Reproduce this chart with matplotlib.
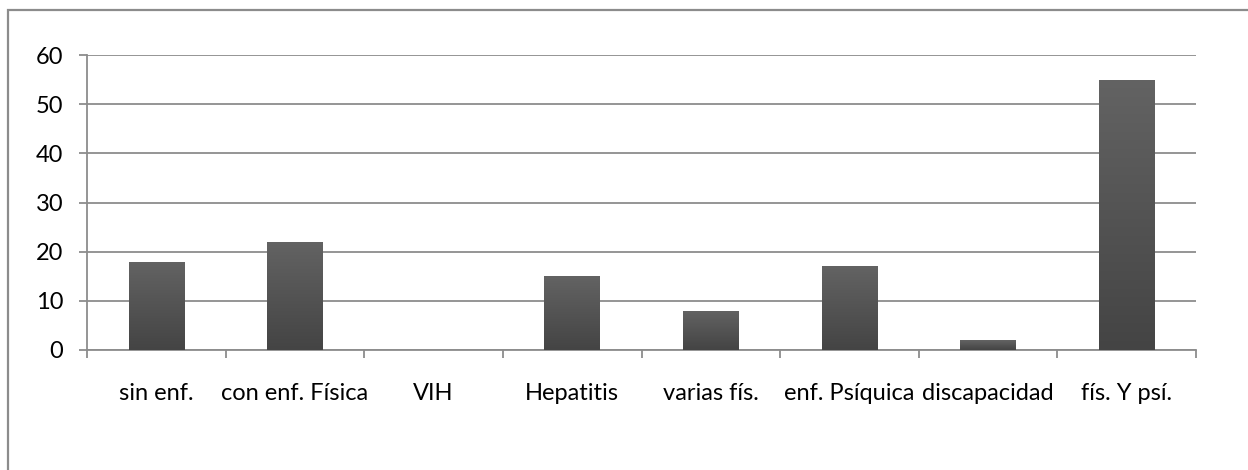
import matplotlib.pyplot as plt
import numpy as np
from matplotlib.patches import Rectangle

categories = ['sin enf.', 'con enf. Física', 'VIH', 'Hepatitis', 'varias fís.',
              'enf. Psíquica', 'discapacidad', 'fís. Y psí.']
values = [18, 22, 0, 15, 8, 17, 2, 55]
yticks = [0, 10, 20, 30, 40, 50, 60]

plt.rcParams['font.family'] = ['Lato', 'DejaVu Sans']

W, H = 1248, 470
fig = plt.figure(figsize=(W / 100, H / 100), dpi=100)

# outer chart frame (right and bottom edges fall outside the picture)
fig.patches.append(Rectangle((8 / W, 1 - 10 / H - 2), 2, 2, transform=fig.transFigure,
                             fill=False, edgecolor='#8c8c8c', linewidth=1.6))

ax = fig.add_axes([87 / W, 1 - 350 / H, (1196 - 87) / W, (350 - 55) / H])
x = np.arange(len(categories))
bars = ax.bar(x, values, width=0.4, color='#555555', zorder=3)

# vertical gradient inside each bar
grad = np.linspace(0, 1, 256).reshape(-1, 1)
cmap = plt.matplotlib.colors.LinearSegmentedColormap.from_list('g', ['#444444', '#636363'])
for b in bars:
    if b.get_height() <= 0:
        continue
    im = ax.imshow(grad, extent=[b.get_x(), b.get_x() + b.get_width(), 0, b.get_height()],
                   origin='lower', aspect='auto', cmap=cmap, zorder=4)
    im.set_clip_path(b)

ax.set_xlim(-0.5, len(categories) - 0.5)
ax.set_ylim(0, 60)
ax.set_yticks(yticks)
ax.set_yticklabels([str(v) for v in yticks])
ax.yaxis.grid(True, color='#8c8c8c', linewidth=1.3, zorder=1)
ax.set_axisbelow(True)

ax.set_xticks(np.arange(len(categories) + 1) - 0.5)
ax.set_xticklabels([])
ax.set_xticks(x, minor=True)
ax.set_xticklabels(categories, minor=True)
ax.tick_params(axis='x', which='major', length=6, width=1.3, color='#8c8c8c', direction='out')
ax.tick_params(axis='x', which='minor', length=0, pad=24, labelsize=17)
ax.tick_params(axis='y', length=6, width=1.3, color='#8c8c8c', pad=11, labelsize=17)

for s in ['top', 'right']:
    ax.spines[s].set_visible(False)
for s in ['left', 'bottom']:
    ax.spines[s].set_color('#8c8c8c')
    ax.spines[s].set_linewidth(1.3)

fig.savefig('out.png', dpi=100)
